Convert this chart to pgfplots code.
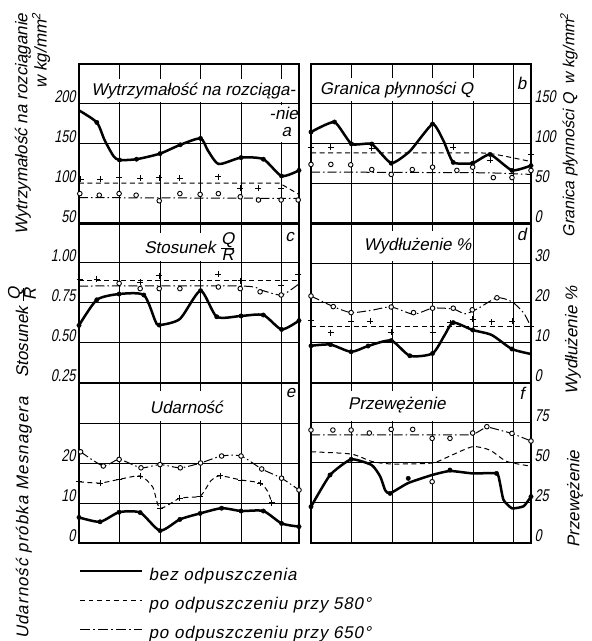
\documentclass[border=0pt]{standalone}
\usepackage{pgfplots}
\pgfplotsset{compat=1.18}
\usepackage{fontspec}
\setmainfont{Liberation Sans}[FakeSlant=0.2]
\newfontfamily\cond{Liberation Sans}[FakeStretch=0.74, FakeSlant=0.2]
\newcommand{\tf}{\fontsize{17}{20}\selectfont}
\newcommand{\nf}{\cond\fontsize{17}{20}\selectfont}
\pgfplotsset{
 panel/.style={scale only axis, width=220pt, height=160pt, xmin=0, xmax=5.43,
   xtick={1,2,3,4,5}, xticklabels={}, xmajorgrids, ymajorgrids,
   major grid style={black, line width=1pt},
   axis line style={black, line width=1.5pt},
   major tick length=0pt, clip=false,
   yticklabel style={font=\nf, yshift=7pt},
   every axis plot/.append style={black}},
 L/.style={yticklabel pos=left},
 R/.style={yticklabel pos=right},
 s/.style={line width=2.5pt, smooth, tension=0.4, mark=none},
 d/.style={line width=1pt, dash pattern=on 5pt off 3.5pt, mark=none},
 c/.style={line width=1pt, dash pattern=on 9pt off 3pt on 1.5pt off 3pt, mark=none},
 ds/.style={d, smooth, tension=0.4},
 cs/.style={c, smooth, tension=0.4},
 sm/.style={only marks, mark=*, mark size=2.2pt},
 dm/.style={only marks, mark=+, mark size=3pt, mark options={line width=0.9pt}},
 cm/.style={only marks, mark=*, mark size=2.3pt, mark options={fill=white, line width=0.9pt}},
}
\begin{document}
\begin{tikzpicture}
\useasboundingbox (0,0) rectangle (592pt,641pt);
% ---------- panel a
\begin{axis}[panel, L, at={(79pt,417pt)}, anchor=south west, ymin=50, ymax=250,
  ytick={50,150,200}, yticklabels={50,150,200},
  extra y ticks={100}, extra y tick labels={100}, extra y tick style={grid=none}]
\fill[white] (axis cs:0.06,203) rectangle (axis cs:5.37,231);
\fill[white] (axis cs:4.72,153) rectangle (axis cs:5.4,199);
\node[font=\tf] at (axis cs:2.82,216) {Wytrzymałość na rozciąga-};
\node[font=\tf, inner sep=0pt] at (axis cs:5.05,188) {-nie};
\node[font=\tf, inner sep=0pt] at (axis cs:5.12,165) {a};
\addplot[s] coordinates {(0,192) (0.44,177) (0.63,155) (0.85,135) (1.0,130) (1.42,131) (2.0,138) (2.5,149) (3.0,157) (3.18,142) (3.45,125) (4.0,133) (4.55,131) (5.0,110) (5.43,117)};
\addplot[sm] coordinates {(0.44,177) (1.0,130) (1.42,131) (2.0,138) (2.5,149) (3.0,157) (4.0,133) (4.55,131) (5.0,110) (5.43,117)};
\addplot[d] coordinates {(0,101) (4.95,101) (5.43,87)};
\addplot[dm] coordinates {(0.04,106) (0.52,106) (0.99,108) (1.51,107) (1.98,108) (2.49,107) (3.44,109) (3.98,95) (4.43,95) (4.99,95)};
\addplot[c] coordinates {(0,83) (5.43,82)};
\addplot[cm] coordinates {(0.02,88) (0.5,86) (0.99,88) (1.41,86) (1.98,79) (2.49,88) (2.99,87) (3.44,88) (3.98,84) (4.43,80) (4.99,80) (5.41,80)};
\end{axis}
% ---------- panel b
\begin{axis}[panel, R, at={(311pt,417pt)}, anchor=south west, ymin=0, ymax=200,
  ytick={0,50,100,150}, yticklabels={0,50,100,150}]
\fill[white] (axis cs:0.08,154) rectangle (axis cs:4.1,183);
\node[font=\tf] at (axis cs:2.11,168) {Granica płynności Q};
\node[font=\tf] at (axis cs:5.2,176) {b};
\addplot[s, tension=0.3] coordinates {(0,115) (0.58,127.5) (1.0,100) (1.5,100) (1.98,76) (2.44,91) (3.0,125) (3.27,104) (3.51,77) (3.99,76) (4.42,87) (4.96,67) (5.43,73)};
\addplot[sm] coordinates {(0,115) (0.58,127.5) (1.0,100) (1.5,100) (1.98,76) (3.0,125) (3.51,77) (3.99,76) (4.42,87) (4.96,67) (5.43,73)};
\addplot[ds] coordinates {(0,89) (3.6,89) (4.42,88) (5.43,78)};
\addplot[dm] coordinates {(0,96) (0.49,96) (1.5,95) (3.51,96) (4.42,80) (5.43,87)};
\addplot[c] coordinates {(0,65) (4.4,64) (5.43,62)};
\addplot[cm] coordinates {(0,74.5) (0.49,74.5) (0.98,74) (1.5,68) (1.98,62) (2.5,68) (3.0,71) (3.6,67) (3.99,71) (4.5,58) (4.96,58) (5.43,67)};
\end{axis}
% ---------- panel c
\begin{axis}[panel, L, at={(79pt,258pt)}, anchor=south west, ymin=0.25, ymax=1.25,
  ytick={0.25,0.5,0.75,1.0}, yticklabels={0.25,0.50,0.75,1.00}]
\fill[white] (axis cs:1.2,1.012) rectangle (axis cs:3.95,1.19);
\node[font=\tf] at (axis cs:2.74,1.10) {Stosunek $\frac{\mbox{\tf Q}}{\mbox{\tf R}}$};
\node[font=\tf] at (axis cs:5.2,1.16) {c};
\addplot[s] coordinates {(0,0.61) (0.44,0.77) (0.99,0.806) (1.6,0.80) (1.88,0.64) (1.98,0.612) (2.49,0.65) (3.0,0.827) (3.4,0.664) (4.0,0.669) (4.55,0.675) (5.0,0.585) (5.43,0.64)};
\addplot[sm] coordinates {(0,0.61) (0.44,0.77) (0.99,0.806) (1.6,0.80) (1.98,0.612) (3.0,0.827) (3.4,0.664) (4.0,0.669) (4.55,0.675) (5.0,0.585) (5.43,0.64)};
\addplot[d] coordinates {(0,0.89) (5.43,0.89)};
\addplot[dm] coordinates {(0.02,0.90) (0.44,0.90) (1.51,0.88) (1.98,0.92) (3.44,0.93) (3.99,0.89) (4.99,0.86) (5.41,0.93)};
\addplot[cs] coordinates {(0,0.856) (4.0,0.856) (4.5,0.83) (5.0,0.80) (5.43,0.87)};
\addplot[cm] coordinates {(0.99,0.873) (1.51,0.84) (1.98,0.84) (2.49,0.84) (3.44,0.85) (3.98,0.84) (4.47,0.82) (4.99,0.80)};
\end{axis}
% ---------- panel d
\begin{axis}[panel, R, at={(311pt,258pt)}, anchor=south west, ymin=0, ymax=40,
  ytick={0,10,20,30}, yticklabels={0,10,20,30}]
\fill[white] (axis cs:1.2,30.5) rectangle (axis cs:3.97,38);
\node[font=\tf] at (axis cs:2.63,34.3) {Wydłużenie \%};
\node[font=\tf] at (axis cs:5.2,37.2) {d};
\addplot[s] coordinates {(0,9.3) (0.48,9.6) (0.99,7.8) (1.41,9.25) (1.98,10.6) (2.44,6.8) (3.0,7.4) (3.3,12.0) (3.51,15.1) (3.99,13.25) (4.46,12.0) (4.96,8.5) (5.43,7.25)};
\addplot[sm] coordinates {(0,9.3) (0.48,9.6) (0.99,7.8) (1.41,9.25) (1.98,10.6) (2.44,6.8) (3.0,7.4) (3.51,15.1) (3.99,13.25) (4.96,8.5)};
\addplot[d] coordinates {(0,14.1) (5.43,14.1)};
\addplot[dm] coordinates {(0,15.75) (0.49,12.6) (0.99,15.3) (1.46,15.5) (1.98,12.7) (3.0,12.6) (3.44,15.1) (3.99,16) (4.46,15.3) (4.96,15.5) (5.43,14.1)};
\addplot[cs] coordinates {(0,21.75) (0.55,19.1) (0.99,17.6) (1.5,18.2) (1.98,19) (2.53,17.2) (3.0,18.7) (3.51,18.5) (3.8,17.3) (4.1,18.5) (4.59,21.3) (4.96,20.3) (5.25,17.5) (5.43,14)};
\addplot[cm] coordinates {(0,21.75) (0.55,19.1) (0.99,17.6) (1.98,19) (2.53,17.6) (3.0,18.7) (3.51,18.7) (3.98,18.3) (4.59,21.3)};
\end{axis}
% ---------- panel e
\begin{axis}[panel, L, at={(79pt,98pt)}, anchor=south west, ymin=0, ymax=40,
  ytick={0,10,20,30}, yticklabels={0,10,20,{}},
  legend style={at={(axis description cs:0,-0.152)}, anchor=north west, draw=none, fill=none,
    inner sep=0pt, font=\tf\addfontfeature{LetterSpace=5}, row sep=12pt, column sep=4pt,
    nodes={inner sep=1pt, text height=12pt, text depth=3pt}},
  legend cell align=left,
  legend image code/.code={\draw[#1] (0pt,5pt) -- (62pt,5pt);}]
\fill[white] (axis cs:1.15,30.5) rectangle (axis cs:3.9,38);
\node[font=\tf] at (axis cs:2.65,34) {Udarność};
\node[font=\tf] at (axis cs:5.22,37.5) {e};
\addplot[s, forget plot] coordinates {(0,6.4) (0.52,5.3) (0.99,7.7) (1.51,7.6) (2.0,3.1) (2.49,5.9) (2.99,7.4) (3.52,8.7) (4.0,8.0) (4.55,8.0) (5.0,4.9) (5.43,4.1)};
\addplot[sm, forget plot] coordinates {(0,6.4) (0.52,5.3) (0.99,7.7) (1.51,7.6) (2.0,3.1) (2.49,5.9) (2.99,7.4) (3.52,8.7) (4.0,8.0) (4.55,8.0) (5.0,4.9) (5.43,4.1)};
\addplot[ds, forget plot] coordinates {(0,15.3) (0.52,15) (0.99,15.9) (1.51,16.75) (1.82,14) (2.0,8.7) (2.49,11.2) (2.99,11.75) (3.25,15.5) (3.48,16.8) (4.0,15.75) (4.47,15) (4.65,13) (4.76,10.1)};
\addplot[dm, forget plot] coordinates {(0,15.3) (0.52,15) (0.99,15.9) (1.51,16.75) (2.0,8.7) (2.49,11.2) (2.99,11.75) (3.48,16.8) (4.0,15.75) (4.47,15) (4.76,10.1)};
\addplot[cs, forget plot] coordinates {(0.04,22.8) (0.6,19.25) (0.99,20.9) (1.53,18.8) (2.0,19.6) (2.5,18.8) (3.0,20) (3.52,21.75) (4.0,21.75) (4.51,18.5) (5.0,16.2) (5.43,13.25)};
\addplot[cm, forget plot] coordinates {(0.04,22.8) (0.6,19.25) (0.99,20.9) (1.53,18.8) (2.0,19.6) (2.5,18.8) (3.0,20) (3.52,21.75) (4.0,21.75) (4.51,18.5) (5.0,16.2) (5.43,13.25)};
\addlegendimage{black, line width=2.5pt}
\addlegendentry{bez odpuszczenia}
\addlegendimage{black, line width=1pt, dash pattern=on 4.5pt off 4pt}
\addlegendentry{po odpuszczeniu przy 580°}
\addlegendimage{black, line width=1pt, dash pattern=on 10pt off 3pt on 2pt off 3pt}
\addlegendentry{po odpuszczeniu przy 650°}
\end{axis}
% ---------- panel f
\begin{axis}[panel, R, at={(311pt,98pt)}, anchor=south west, ymin=0, ymax=100,
  ytick={0,25,50,75}, yticklabels={0,25,50,75}]
\fill[white] (axis cs:0.2,76) rectangle (axis cs:3.9,95);
\node[font=\tf] at (axis cs:2.12,86) {Przewężenie};
\node[font=\tf] at (axis cs:5.2,93.5) {f};
\addplot[s, tension=0.3] coordinates {(0,22.7) (0.47,42.5) (0.99,52.3) (1.5,48.7) (1.71,41.5) (1.83,33) (1.95,31) (2.4,37.5) (2.99,42.5) (3.43,45) (3.99,43.5) (4.58,43.5) (4.66,38) (4.75,27) (4.96,21.7) (5.25,23) (5.43,29)};
\addplot[sm] coordinates {(0,22.7) (0.47,42.5) (0.99,52.3) (1.95,31) (2.4,40.4) (3.43,45.6) (4.58,43.5) (5.43,29)};
\addplot[ds] coordinates {(0,57) (0.99,55.6) (1.5,51) (1.98,49.4) (2.99,50) (3.43,54.4) (3.99,60.2) (4.42,58) (4.83,51) (5.43,48)};
\addplot[c] coordinates {(0,67.5) (3.99,67.5) (4.34,72.7) (4.96,68.5) (5.43,63.75)};
\addplot[cm] coordinates {(0,70.6) (0.54,70.6) (0.99,70.6) (1.44,68.75) (1.98,71) (2.51,71) (2.99,65.4) (3.43,65.4) (3.99,68.75) (4.34,72.7) (4.96,68.5) (5.43,63.75) (2.99,38.3)};
\end{axis}
% ---------- axis titles
\node[rotate=90, anchor=east, font=\tf] at (23pt,631pt) {Wytrzymałość na rozciąganie};
\node[rotate=90, anchor=east, font=\tf] at (41pt,631pt) {w kg/mm\textsuperscript{2}};
\node[rotate=90, anchor=east, font=\tf] at (22pt,358pt) {Stosunek $\frac{\mbox{\tf Q}}{\mbox{\tf R}}$};
\node[rotate=90, anchor=east, font=\tf\addfontfeature{LetterSpace=6}, inner sep=0pt] at (24pt,244pt) {Udarność próbka Mesnagera};
\node[rotate=90, anchor=east, font=\fontsize{16}{18}\selectfont] at (569pt,631pt) {Granica płynności Q\ \ w kg/mm\textsuperscript{2}};
\node[rotate=90, anchor=east, font=\tf] at (573pt,358pt) {Wydłużenie \%};
\node[rotate=90, anchor=east, font=\tf] at (575pt,194pt) {Przewężenie};
\end{tikzpicture}
\end{document}
